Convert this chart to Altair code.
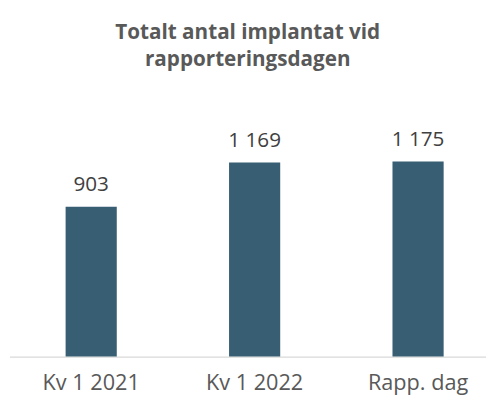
import altair as alt
import pandas as pd

categories = ["Kv 1 2021", "Kv 1 2022", "Rapp. dag"]
values = [903, 1169, 1175]
labels = ["903", "1 169", "1 175"]

df = pd.DataFrame({"cat": categories, "val": values, "lab": labels})

FONT = "Open Sans"

x = alt.X("cat:N", sort=categories, title=None,
          scale=alt.Scale(range=[0, 498], paddingInner=0.687, paddingOuter=0.3435),
          axis=alt.Axis(labelAngle=0, labelFont=FONT, labelFontSize=22, labelColor="#595959",
                        labelPadding=16, ticks=False, domainColor="#d9d9d9", domainWidth=1.3,
                        grid=False))
y = alt.Y("val:Q", scale=alt.Scale(domain=[0, 1400]), axis=None)

bars = alt.Chart(df).mark_bar(color="#375e73").encode(x=x, y=y)
text = alt.Chart(df).mark_text(font=FONT, fontSize=21, color="#404040", baseline="alphabetic", dy=-16).encode(
    x=x, y=y, text="lab:N")

chart = (bars + text).properties(
    width=484,
    height=236,
    padding={"left": 1.5, "top": 115, "right": 0, "bottom": 40},
    autosize=alt.AutoSizeParams(type="none"),
    title=alt.TitleParams(["Totalt antal implantat vid", "rapporteringsdagen"], font=FONT, fontSize=21,
                          fontWeight="bold", color="#595959", anchor="middle", frame="group",
                          lineHeight=28, offset=55),
).configure_view(stroke=None)

chart.save("out.html", embed_options={"renderer": "svg", "actions": False})
